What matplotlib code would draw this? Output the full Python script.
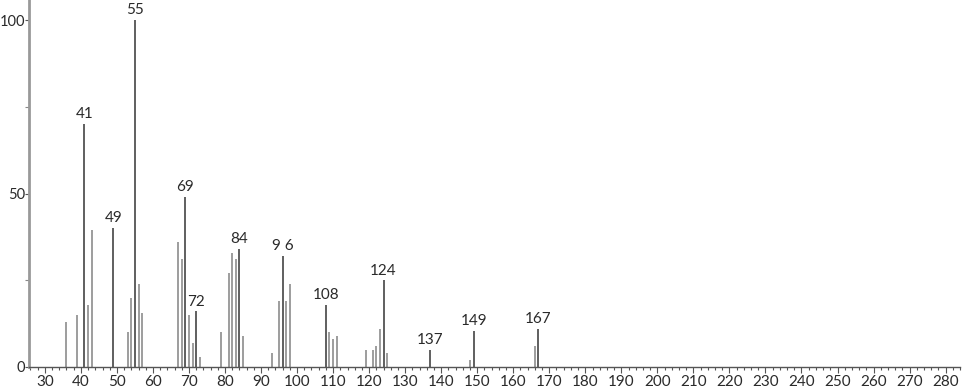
import numpy as np
import matplotlib.pyplot as plt
from matplotlib.ticker import MultipleLocator, FixedLocator

plt.rcParams['font.family'] = ['Lato', 'DejaVu Sans']

# m/z and relative intensity
mz = [36, 39, 41, 42, 43, 49, 53, 54, 55, 56, 57, 67, 68, 69, 70, 71, 72, 73,
      79, 81, 82, 83, 84, 85, 93, 95, 96, 97, 98, 108, 109, 110, 111,
      119, 121, 122, 123, 124, 125, 137, 148, 149, 166, 167]
intensity = [13, 15, 70, 18, 39.5, 40, 10, 20, 100, 24, 15.5, 36, 31, 49, 15, 7, 16, 3,
             10, 27, 33, 31, 34, 9, 4, 19, 32, 19, 24, 18, 10, 8, 9,
             5, 5, 6, 11, 25, 4, 5, 2, 10.3, 6, 11]

# labelled peaks
label_mz = [41, 49, 55, 69, 72, 84, 96, 108, 124, 137, 149, 167]
label_txt = ['41', '49', '55', '69', '72', '84', '9 6', '108', '124', '137', '149', '167']

fig = plt.figure(figsize=(9.66, 3.89), dpi=100)
ax = fig.add_axes([29 / 966, 22 / 389, 931 / 966, 367 / 389])

colors = ['#444444' if m in label_mz else '#8c8c8c' for m in mz]
ax.vlines(mz, 0, intensity, colors=colors, linewidth=1.2)

for m, t in zip(label_mz, label_txt):
    h = intensity[mz.index(m)]
    ax.annotate(t, (m, h), xytext=(0, 2), textcoords='offset points',
                ha='center', va='bottom', fontsize=11, color='#2a2a2a')

ax.set_xlim(25.6, 284)
ax.set_ylim(0, 105.8)

ax.spines['top'].set_visible(False)
ax.spines['right'].set_visible(False)
ax.spines['left'].set_color('#999999')
ax.spines['left'].set_linewidth(2)
ax.spines['bottom'].set_color('#555555')
ax.spines['bottom'].set_linewidth(1)

ax.xaxis.set_major_locator(MultipleLocator(10))
ax.xaxis.set_minor_locator(MultipleLocator(2))
ax.set_xticks(np.arange(30, 290, 10))
ax.yaxis.set_major_locator(FixedLocator([0, 50, 100]))
ax.yaxis.set_minor_locator(FixedLocator([25, 75]))

ax.tick_params(axis='x', which='major', length=4, width=0.8, color='#555555',
               labelsize=11, labelcolor='#2a2a2a', pad=1.5)
ax.tick_params(axis='x', which='minor', length=2.5, width=0.8, color='#555555')
ax.tick_params(axis='y', which='major', length=3, width=0.8, color='#555555',
               labelsize=10.5, labelcolor='#2a2a2a', pad=0)
ax.tick_params(axis='y', which='minor', length=3, width=0.8, color='#888888')

fig.savefig('out.png', dpi=100)
